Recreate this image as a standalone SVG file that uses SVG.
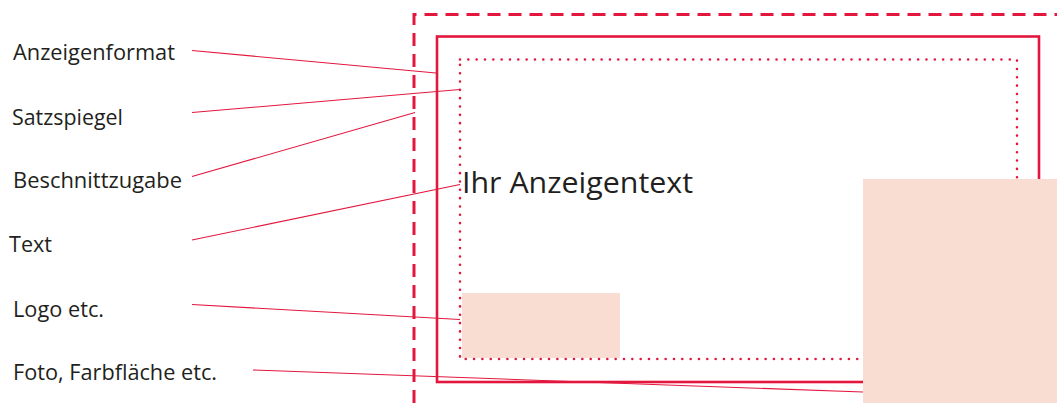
<svg xmlns="http://www.w3.org/2000/svg" width="1057" height="403" viewBox="0 0 1057 403">
<style>
.lbl{font-family:"Open Sans","Liberation Sans",sans-serif;font-size:21px;fill:#231f20}
.big{font-family:"Open Sans","Liberation Sans",sans-serif;font-size:29px;fill:#231f20}
.ld{stroke:#e3173e;stroke-width:1.1;fill:none}
.fill{fill:#f9ddd3}
</style>
<rect width="1057" height="403" fill="#fff"/>
<g id="beschnittzugabe">
<path d="M414,403 V14.5 H1057" fill="none" stroke="#e3173e" stroke-width="3" stroke-dasharray="13 8"/>
</g>
<g id="anzeigenformat">
<rect x="437" y="36.5" width="602" height="345.5" fill="none" stroke="#e3173e" stroke-width="2.6"/>
</g>
<g id="logo">
<rect class="fill" x="462" y="293" width="158" height="65"/>
</g>
<g id="satzspiegel">
<rect x="460" y="59.5" width="557" height="299.5" fill="none" stroke="#e3173e" stroke-width="2.6" stroke-linecap="round" stroke-dasharray="0 8.33"/>
</g>
<g id="foto">
<rect class="fill" x="863" y="179" width="194" height="224"/>
</g>
<g id="anzeigentext">
<text class="big" x="462" y="193" textLength="231" lengthAdjust="spacingAndGlyphs">Ihr Anzeigentext</text>
</g>
<g id="labels">
<text class="lbl" x="13" y="60" textLength="162" lengthAdjust="spacingAndGlyphs">Anzeigenformat</text>
<text class="lbl" x="12" y="125" textLength="111" lengthAdjust="spacingAndGlyphs">Satzspiegel</text>
<text class="lbl" x="13" y="188" textLength="169" lengthAdjust="spacingAndGlyphs">Beschnittzugabe</text>
<text class="lbl" x="9" y="252" textLength="43" lengthAdjust="spacingAndGlyphs">Text</text>
<text class="lbl" x="13" y="317" textLength="91" lengthAdjust="spacingAndGlyphs">Logo etc.</text>
<text class="lbl" x="13" y="380" textLength="204" lengthAdjust="spacingAndGlyphs">Foto, Farbfläche etc.</text>
</g>
<g id="connectors">
<line class="ld" x1="192" y1="50.5" x2="436" y2="73"/>
<line class="ld" x1="192" y1="112.5" x2="460" y2="89.5"/>
<line class="ld" x1="192" y1="176.5" x2="415" y2="112.5"/>
<line class="ld" x1="192" y1="240" x2="460" y2="184.5"/>
<line class="ld" x1="192" y1="304.5" x2="460" y2="319.5"/>
<line class="ld" x1="253" y1="370" x2="863" y2="392"/>
</g>
</svg>
